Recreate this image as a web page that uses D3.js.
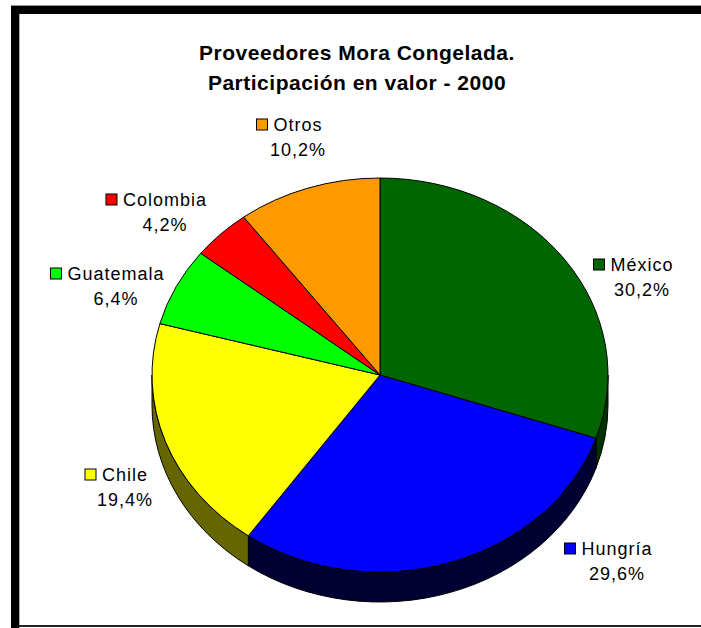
<!DOCTYPE html>
<html>
<head>
<meta charset="utf-8">
<script src="https://cdn.jsdelivr.net/npm/d3@7/dist/d3.min.js"></script>
<style>
  html, body { margin: 0; padding: 0; background: #fff; }
  svg { display: block; }
  text { font-family: "Liberation Sans", Arial, sans-serif; fill: #000; }
</style>
</head>
<body>
<script>
// Data: import share by supplier country, year 2000 (percent)
const categories = ["México", "Hungría", "Chile", "Guatemala", "Colombia", "Otros"];
const shares = [30.2, 29.6, 19.4, 6.4, 4.2, 10.2];
const shareLabels = ["30,2%", "29,6%", "19,4%", "6,4%", "4,2%", "10,2%"];
const titleLines = ["Proveedores Mora Congelada.", "Participación en valor - 2000"];

// Styling
const topColors = ["#006600", "#0000ff", "#ffff00", "#00ff00", "#ff0000", "#ff9900"];
const sideColors = ["#003300", "#000033", "#666600", "#006600", "#660000", "#663d00"];

// Layout
const W = 701, H = 628;
const cx = 380, cy = 375, rx = 228, ry = 197, depth = 30;
// label anchor (centre of name text, baseline) per category
const labelAnchor = {
  "México":    [642, 271],
  "Hungría":   [617, 555],
  "Chile":     [125, 481],
  "Guatemala": [116, 280],
  "Colombia":  [165, 206],
  "Otros":     [298, 131]
};

const svg = d3.select("body").append("svg")
  .attr("width", W).attr("height", H);

svg.append("rect").attr("width", W).attr("height", H).attr("fill", "#fff");

// frame
svg.append("rect").attr("x", 11).attr("y", 5).attr("width", W - 11).attr("height", 1).attr("fill", "#999");
svg.append("rect").attr("x", 11).attr("y", 6).attr("width", W - 11).attr("height", 8).attr("fill", "#000");
svg.append("rect").attr("x", 11).attr("y", 6).attr("width", 8).attr("height", H - 6).attr("fill", "#000");
svg.append("rect").attr("x", 19).attr("y", 14).attr("width", 1).attr("height", H - 14).attr("fill", "#aaa");
svg.append("rect").attr("x", 19).attr("y", 625).attr("width", W - 19).attr("height", 2).attr("fill", "#222");

// title
svg.append("g").selectAll("text").data(titleLines).join("text")
  .attr("x", 357).attr("y", (d, i) => 60 + i * 30)
  .attr("text-anchor", "middle")
  .style("font-size", "21px").style("font-weight", "bold").style("letter-spacing", "0.5px")
  .text(d => d);

const pie = d3.pie().sort(null).value(d => d)(shares);

// point on the top ellipse at pie angle a (0 = 12 o'clock, clockwise)
const pt = (a, dy = 0) => [cx + rx * Math.sin(a), cy - ry * Math.cos(a) + dy];

// sides: only the front half (angles between PI/2 and 3PI/2) is visible
const sideG = svg.append("g");
pie.forEach((p, i) => {
  const a0 = Math.max(p.startAngle, Math.PI / 2);
  const a1 = Math.min(p.endAngle, 3 * Math.PI / 2);
  if (a1 <= a0) return;
  const [x0, y0] = pt(a0), [x1, y1] = pt(a1);
  const [x0b, y0b] = pt(a0, depth), [x1b, y1b] = pt(a1, depth);
  const large = (a1 - a0) > Math.PI ? 1 : 0;
  const d = `M${x0},${y0} A${rx},${ry} 0 ${large} 1 ${x1},${y1} L${x1b},${y1b} ` +
            `A${rx},${ry} 0 ${large} 0 ${x0b},${y0b} Z`;
  sideG.append("path").attr("d", d)
    .attr("fill", sideColors[i]).attr("stroke", "#000").attr("stroke-width", 1)
    .attr("stroke-linejoin", "round");
});

// top faces
const arc = d3.arc().innerRadius(0).outerRadius(rx);
svg.append("g")
  .attr("transform", `translate(${cx},${cy}) scale(1,${ry / rx})`)
  .selectAll("path").data(pie).join("path")
  .attr("d", arc)
  .attr("fill", (d, i) => topColors[i])
  .attr("stroke", "#000").attr("stroke-width", 1)
  .attr("vector-effect", "non-scaling-stroke")
  .attr("stroke-linejoin", "round");

// labels
const lab = svg.append("g").style("font-size", "18px").style("letter-spacing", "1px");
categories.forEach((c, i) => {
  const [x, y] = labelAnchor[c];
  const name = lab.append("text").attr("x", x).attr("y", y)
    .attr("text-anchor", "middle").text(c);
  const w = name.node().getComputedTextLength();
  lab.append("rect")
    .attr("x", x - w / 2 - 17).attr("y", y - 12)
    .attr("width", 11).attr("height", 11)
    .attr("fill", topColors[i]).attr("stroke", "#000").attr("stroke-width", 1);
  lab.append("text").attr("x", x).attr("y", y + 25)
    .attr("text-anchor", "middle").text(shareLabels[i]);
});
</script>
</body>
</html>
